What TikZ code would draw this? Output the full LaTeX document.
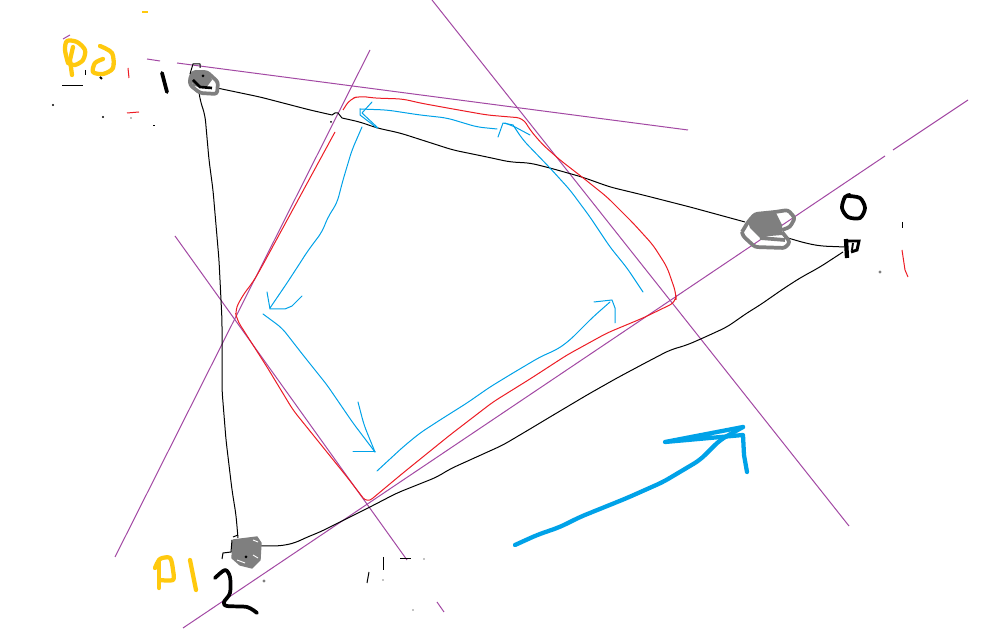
\documentclass[tikz,border=0pt]{standalone}
\definecolor{pur}{HTML}{A349A4}
\definecolor{rd}{HTML}{ED1C24}
\definecolor{bl}{HTML}{00A2E8}
\definecolor{yl}{HTML}{FFC90E}
\definecolor{gr}{HTML}{7F7F7F}
\tikzset{
  purpleline/.style={draw=pur,line width=0.75pt},
  redline/.style={draw=rd,line width=0.75pt,line join=round},
  blueline/.style={draw=bl,line width=0.75pt,line join=round,line cap=round},
  bluethick/.style={draw=bl,line width=3.2pt,line join=round,line cap=round},
  blackline/.style={draw=black,line width=0.75pt,line join=round},
  blackthick/.style={draw=black,line width=2.8pt,line join=round,line cap=round},
  yellowpen/.style={draw=yl,line width=3.2pt,line join=round,line cap=round},
  greypen/.style={draw=gr,line width=2.8pt,line join=round,rounded corners=2pt},
  greyfill/.style={fill=gr,draw=gr,line width=1pt,line join=round},
  speck/.style={draw=black,line width=0.75pt},
  soft/.style={rounded corners=5pt}
}
\begin{document}
\begin{tikzpicture}[x=0.75pt,y=-0.75pt]
\useasboundingbox (0,0) rectangle (1008,630);
\fill[white] (0,0) rectangle (1008,630);
% purple lines
\draw[purpleline] (147,59) -- (160,61);
\draw[purpleline] (177,63) -- (688,130);
\draw[purpleline] (968,100) -- (893,150);
\draw[purpleline] (885,156) -- (183,628);
\draw[purpleline] (432,0) -- (849,526);
\draw[purpleline] (370,50) -- (115,557);
\draw[purpleline] (175,236) -- (407,560);
\draw[purpleline] (437,602) -- (444,612);
\draw[purpleline] (63,39) -- (70,35);
% black outline
\draw[blackline,soft] (217,88) -- (260,97) -- (310,110) -- (332,115);
\draw[blackline] (332,115) -- (335,113) -- (338,113) -- (342,118);
\draw[blackline,soft] (342,118) -- (360,122) -- (377,128) -- (400,133) -- (453,150) -- (487,157) -- (510,162) -- (530,163) -- (550,168) -- (582,177) -- (610,187) -- (643,195) -- (690,207) -- (745,222);
\draw[blackline,soft] (788,238) -- (805,243) -- (820,246) -- (845,247);
\draw[blackline,soft] (199,92) -- (200,100) -- (205,115) -- (209,160) -- (213,190) -- (219,260) -- (222,320) -- (222,390) -- (226,440) -- (232,490) -- (236,515) -- (238,538);
\draw[blackline,soft] (260,546) -- (280,546) -- (295,543) -- (305,538) -- (320,532) -- (370,507) -- (397,493) -- (437,477) -- (450,469) -- (503,445) -- (530,429) -- (550,417) -- (587,395) -- (617,378) -- (647,362) -- (670,350) -- (687,345) -- (703,338) -- (727,327) -- (747,313) -- (760,305) -- (783,289) -- (800,278) -- (820,267) -- (843,252);
% red contour
\draw[redline,soft] (343,110) -- (350,99) -- (360,96) -- (373,98) -- (403,99) -- (420,103) -- (453,109) -- (487,115) -- (510,117) -- (523,118) -- (530,130) -- (543,145) -- (560,160) -- (582,177) -- (607,197) -- (633,223) -- (653,245) -- (667,267) -- (676,293) -- (676,302) -- (643,318) -- (607,333) -- (567,355) -- (530,379) -- (493,402) -- (450,435) -- (403,473) -- (367,503) -- (347,477) -- (293,410) -- (267,367) -- (237,320) -- (235,310) -- (243,295) -- (253,282) -- (260,270) -- (335,132);
\draw[redline] (902,250) -- (905,270) -- (908,277);
\draw[redline] (128,68) -- (129,78);
\draw[redline] (127,113) -- (139,112);
% thin blue arrows
\draw[blueline,soft] (497,129) -- (477,127) -- (447,118) -- (420,115) -- (387,110) -- (360,109);
\draw[blueline] (360,109) -- (360,115) -- (377,128);
\draw[blueline] (372,102) -- (362,113) -- (378,128);
\draw[blueline,soft] (362,127) -- (352,150) -- (343,180) -- (337,203) -- (328,217) -- (322,232) -- (307,252) -- (302,260) -- (287,283) -- (270,308);
\draw[blueline] (267,292) -- (270,309) -- (285,309) -- (292,306) -- (302,296);
\draw[blueline,soft] (263,314) -- (282,328) -- (303,355) -- (327,385) -- (353,423) -- (375,452);
\draw[blueline,soft] (358,402) -- (364,425) -- (375,452);
\draw[blueline] (375,452) -- (353,452);
\draw[blueline,soft] (377,471) -- (403,447) -- (420,433) -- (440,420) -- (467,403) -- (490,387) -- (513,373) -- (540,357) -- (558,349) -- (570,340) -- (593,317) -- (610,302);
\draw[blueline] (594,302) -- (612,300) -- (615,308) -- (615,323);
\draw[blueline,soft] (643,292) -- (627,268) -- (610,247) -- (590,217) -- (570,190) -- (550,168) -- (523,140) -- (513,125);
\draw[blueline] (513,125) -- (503,123) -- (498,137);
\draw[blueline] (505,123) -- (515,127) -- (530,135);
% thick blue arrow
\draw[bluethick,soft] (515,545) -- (537,535) -- (560,527) -- (580,517) -- (627,498) -- (663,482) -- (700,460) -- (720,440) -- (743,427);
\draw[bluethick] (743,427) -- (665,442) -- (743,435) -- (744,455) -- (747,472);
% grey blob P0
\fill[gr] (190,75) -- (196,70) -- (208,72) -- (212,80) -- (206,88) -- (193,86) -- cycle;
\draw[greypen] (193,72) -- (207,72) -- (218,82) -- (217,94) -- (200,93) -- (190,85) -- (190,78) -- cycle;
\draw[blackline] (190,74) -- (193,64) -- (200,64) -- (200,68);
\draw[black,line width=2pt] (193,80) -- (200,87) -- (212,88);
\fill[black] (203,76) circle[radius=1.5];
% grey blob R0
\fill[gr] (748,222) -- (757,214) -- (776,213) -- (782,225) -- (782,235) -- (770,236) -- (760,238) -- (750,228) -- cycle;
\draw[greypen] (742,232) -- (748,222) -- (755,214) -- (775,212) -- (788,210) -- (795,218) -- (790,227) -- (782,230);
\draw[greypen] (742,232) -- (743,236) -- (755,247) -- (785,248) -- (790,242) -- (782,232);
\draw[greypen] (760,238) -- (785,240);
% grey blob P1
\filldraw[greyfill] (233,540) -- (257,537) -- (261,543) -- (260,560) -- (252,568) -- (240,565) -- (232,558) -- cycle;
\draw[white,line width=0.7pt] (253,540) -- (258,542);
\draw[white,line width=0.7pt] (253,555) -- (258,558);
\draw[white,line width=0.7pt] (237,560) -- (245,563);
\draw[blackline] (233,537) -- (238,535);
\draw[blackline] (232,540) -- (231,552) -- (223,553) -- (222,559);
\fill[black] (246,557) circle[radius=1.5];
% yellow letters
\draw[yellowpen] (73,47) -- (70,60) -- (72,75);
\draw[yellowpen] plot[smooth] coordinates {(68,63) (65,50) (67,41) (77,42) (85,50) (83,60) (75,65) (68,63)};
\draw[yellowpen] plot[smooth] coordinates {(100,46) (112,53) (113,68) (103,74) (93,72) (95,63) (103,59)};
\draw[draw=yl,line width=0.9pt] (142,12) -- (148,12);
\draw[yellowpen] (159,588) -- (159,560);
\draw[yellowpen] plot[smooth] coordinates {(155,568) (160,559) (170,558) (173,570) (173,580) (160,580)};
\draw[yellowpen] (190,560) -- (196,590);
% black digits
\draw[blackthick] (162,73) -- (167,92);
\draw[blackthick] plot[smooth] coordinates {(215,578) (225,570) (230,577) (230,593) (224,602) (227,606) (247,607) (257,613)};
\draw[blackthick] plot[smooth] coordinates {(850,195) (845,197) (842,208) (848,217) (860,218) (865,208) (860,198) (848,196)};
% R mark
\draw[black,line width=3.2pt] (846,239) -- (847,258);
\draw[black,line width=2.2pt] (846,241) -- (859,241) -- (857,250) -- (851,252);
\draw[black,line width=1.4pt] (853,243) -- (852,250);
% specks
\draw[speck] (62,86) -- (83,86);
\draw[speck] (85,70) -- (85,75);
\draw[black,line width=1.5pt] (100,77) -- (102,79);
\fill[black] (53,105) circle[radius=1.2];
\fill[black] (103,117) circle[radius=1.2];
\draw[speck] (153,126) -- (155,126);
\fill[gr] (131,118) circle[radius=0.8];
\draw[speck] (902,222) -- (902,228);
\fill[gr] (880,272) circle[radius=1.6];
\fill[gr] (264,581) circle[radius=1.6];
\draw[speck] (383,557) -- (383,570);
\draw[speck] (369,572) -- (367,583);
\fill[black] (383,580) circle[radius=0.6];
\draw[speck] (400,559) -- (411,559);
\fill[black] (424,559) circle[radius=0.6];
\fill[black] (413,610) circle[radius=0.6];
\fill[black] (331,122) circle[radius=1];
\end{tikzpicture}
\end{document}
